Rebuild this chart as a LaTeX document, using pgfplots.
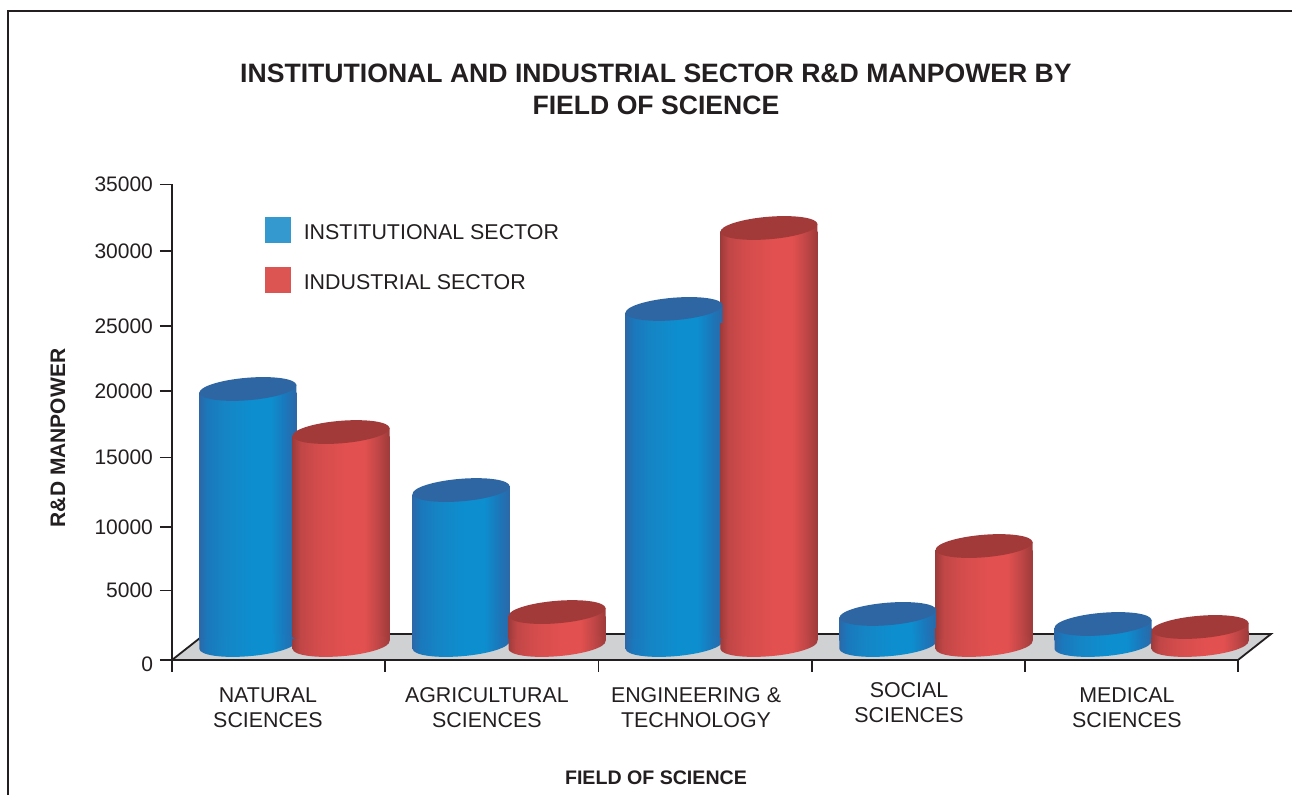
\documentclass[border=0pt]{standalone}
\usepackage{fontspec}
\setmainfont{Liberation Sans}
\usepackage{pgfplots}
\usepackage{pgfplotstable}
\pgfplotsset{compat=1.18}

\definecolor{ink}{HTML}{231F20}
\definecolor{floorgray}{HTML}{CFD1D3}
\definecolor{legblue}{HTML}{3399CF}
\definecolor{legred}{HTML}{DD5552}
\definecolor{capblue}{HTML}{2E66A3}
\definecolor{capred}{HTML}{A33A3A}
\definecolor{ba}{HTML}{2C68A8}
\definecolor{bb}{HTML}{1A78BB}
\definecolor{bc}{HTML}{1585C5}
\definecolor{bd}{HTML}{0D8ECF}
\definecolor{ra}{HTML}{9E3B3B}
\definecolor{rb}{HTML}{C04646}
\definecolor{rc}{HTML}{D44C4C}
\definecolor{rd}{HTML}{E25050}

\pgfdeclarehorizontalshading{cylblue}{100bp}{
  color(0bp)=(ba); color(25bp)=(ba); color(29bp)=(bb); color(38bp)=(bc);
  color(52bp)=(bd); color(62bp)=(bd); color(69bp)=(bb); color(75bp)=(ba); color(100bp)=(ba)}
\pgfdeclarehorizontalshading{cylred}{100bp}{
  color(0bp)=(ra); color(25bp)=(ra); color(29bp)=(rb); color(38bp)=(rc);
  color(52bp)=(rd); color(62bp)=(rd); color(69bp)=(rb); color(75bp)=(ra); color(100bp)=(ra)}

% top and bottom of the cylinders, half width 24.25pt, tilted
\newcommand{\cyltop}[2]{%
  \pgfpathmoveto{\pgfqpoint{-24.25pt}{-7pt}}\pgfpathlineto{\pgfqpoint{-24.25pt}{-2pt}}%
  \pgfpathlineto{\pgfqpoint{24.25pt}{2pt}}\pgfpathlineto{\pgfqpoint{24.25pt}{-7pt}}\pgfpathclose
  \pgfshadepath{#1}{0}\pgfusepath{discard}%
  \pgfsetfillcolor{#2}%
  \pgfpathellipse{\pgfpointorigin}{\pgfqpoint{24.25pt}{2pt}}{\pgfqpoint{-0.5pt}{5.6pt}}\pgfusepathqfill}
\newcommand{\cylbot}[1]{%
  \pgfpathellipse{\pgfqpoint{0pt}{-2pt}}{\pgfqpoint{24.25pt}{2pt}}{\pgfqpoint{-0.5pt}{5.6pt}}%
  \pgfpathmoveto{\pgfqpoint{-24.25pt}{-4pt}}\pgfpathlineto{\pgfqpoint{24.25pt}{0pt}}%
  \pgfpathlineto{\pgfqpoint{24.25pt}{1pt}}\pgfpathlineto{\pgfqpoint{-24.25pt}{1pt}}\pgfpathclose
  \pgfshadepath{#1}{0}\pgfusepath{discard}}
\pgfdeclareplotmark{topblue}{\cyltop{cylblue}{capblue}}
\pgfdeclareplotmark{topred}{\cyltop{cylred}{capred}}
\pgfdeclareplotmark{botblue}{\cylbot{cylblue}}
\pgfdeclareplotmark{botred}{\cylbot{cylred}}

\newcommand{\xl}[3]{\raisebox{#1}[0pt][0pt]{\fontsize{10.7}{12.5}\selectfont\begin{tabular}{@{}c@{}}#2\\#3\end{tabular}}}

% x = position on the category axis, y = height above the floor
\pgfplotstableread{
x     y
0.356 18550
1.356 11110
2.355 24440
3.358 1990
4.367 1250
}\institutional
\pgfplotstableread{
x     y
0.793 15380
1.806 2130
2.800 30400
3.809 6990
4.822 1030
}\industrial
\pgfplotstableread{
x     y
0.356 0
1.356 0
2.355 0
3.358 0
4.367 0
}\institutionalbase
\pgfplotstableread{
x     y
0.793 0
1.806 0
2.800 0
3.809 0
4.822 0
}\industrialbase

% the body stops a little under the cap centre, so no corner shows beside the tilted cap
\pgfplotsset{
  bluebar/.style={ybar, bar width=48.5pt, bar shift=0pt, draw=none, shade, shading=cylblue, forget plot, y filter/.expression={y-295}},
  redbar/.style={ybar, bar width=48.5pt, bar shift=0pt, draw=none, shade, shading=cylred, forget plot, y filter/.expression={y-295}},
}

\begin{document}
\begin{tikzpicture}
\useasboundingbox (0,0) rectangle (646pt,397.5pt);
\draw[ink, line width=1.4pt] (4pt,-2pt) -- (4pt,392pt) -- (648pt,392pt);

\begin{axis}[
    at={(86pt,67.5pt)}, anchor=south west,
    scale only axis,
    width=533pt,
    height=237.75pt,
    xmin=0, xmax=5,
    ymin=0, ymax=35000,
    clip=false,
    axis x line*=bottom,
    axis y line*=left,
    axis line style={ink, line width=0.9pt, -},
    tick align=outside,
    major tick length=6pt,
    tick style={ink, line width=0.9pt},
    tick label style={ink, font=\fontsize{10.5}{12.5}\selectfont},
    scaled y ticks=false,
    xtick={0,1,2,3,4,5},
    xticklabels={},
    extra x ticks={0.450,1.477,2.458,3.457,4.479},
    extra x tick labels={\xl{-24pt}{NATURAL}{SCIENCES},\xl{-24pt}{AGRICULTURAL}{SCIENCES},\xl{-24pt}{ENGINEERING \&}{TECHNOLOGY},\xl{-21.5pt}{SOCIAL}{SCIENCES},\xl{-24pt}{MEDICAL}{SCIENCES}},
    extra x tick style={major tick length=0pt, tick style={draw=none}},
    ytick={0,5115,9790,14905,19800,24585,30105,35000},
    yticklabels={\raisebox{-2pt}[7.5pt][0pt]{0},5000,10000,15000,20000,25000,30000,35000},
    ylabel={R\&D MANPOWER},
    ylabel style={at={(axis description cs:-0.107,0.467)}, anchor=center, ink, font=\bfseries\fontsize{10.5}{12}\selectfont},
    xlabel={FIELD OF SCIENCE},
    xlabel style={at={(axis description cs:0.454,-0.248)}, anchor=center, ink, font=\bfseries\fontsize{9.8}{11}\selectfont},
    title={INSTITUTIONAL AND INDUSTRIAL SECTOR R\&D MANPOWER BY\\FIELD OF SCIENCE},
    title style={at={(axis description cs:0.454,1.175)}, anchor=center, align=center, ink, font=\bfseries\fontsize{13.3}{16}\selectfont},
]
% floor
\addplot[fill=floorgray, draw=ink, line width=0.9pt] coordinates {(0,0) (5,0) (5.155,1914) (0.155,1914) (0,0)};
\end{axis}

\begin{axis}[
    at={(86pt,67.5pt)}, anchor=south west,
    scale only axis,
    width=533pt,
    height=237.75pt,
    xmin=0, xmax=5,
    ymin=-1398, ymax=33602,
    clip=false,
    hide axis,
    legend style={at={(axis description cs:0.0872,0.9317)}, anchor=north west, draw=none, fill=none,
        inner sep=0pt, outer sep=0pt, row sep=12pt, font=\fontsize{10.7}{12.5}\selectfont, text=ink,
        nodes={inner sep=0pt, outer sep=0pt}},
    legend cell align=left,
    legend image code/.code={\fill[#1] (0pt,-6.25pt) rectangle (12.5pt,6.25pt); \path (19pt,0pt);},
]
\addlegendimage{legblue}
\addlegendentry{\raisebox{-2pt}[7.5pt][0pt]{INSTITUTIONAL SECTOR}}
\addlegendimage{legred}
\addlegendentry{\raisebox{-2pt}[7.5pt][0pt]{INDUSTRIAL SECTOR}}

% one plot per cylinder, so that each body gets its own shading
\addplot[only marks, mark=botblue, forget plot] table {\institutionalbase};
\addplot[bluebar] coordinates {(0.356,18550)};
\addplot[bluebar] coordinates {(1.356,11110)};
\addplot[bluebar] coordinates {(2.355,24440)};
\addplot[bluebar] coordinates {(3.358,1990)};
\addplot[bluebar] coordinates {(4.367,1250)};
\addplot[only marks, mark=topblue, forget plot] table {\institutional};

\addplot[only marks, mark=botred, forget plot] table {\industrialbase};
\addplot[redbar] coordinates {(0.793,15380)};
\addplot[redbar] coordinates {(1.806,2130)};
\addplot[redbar] coordinates {(2.800,30400)};
\addplot[redbar] coordinates {(3.809,6990)};
\addplot[redbar] coordinates {(4.822,1030)};
\addplot[only marks, mark=topred, forget plot] table {\industrial};
\end{axis}
\end{tikzpicture}
\end{document}
